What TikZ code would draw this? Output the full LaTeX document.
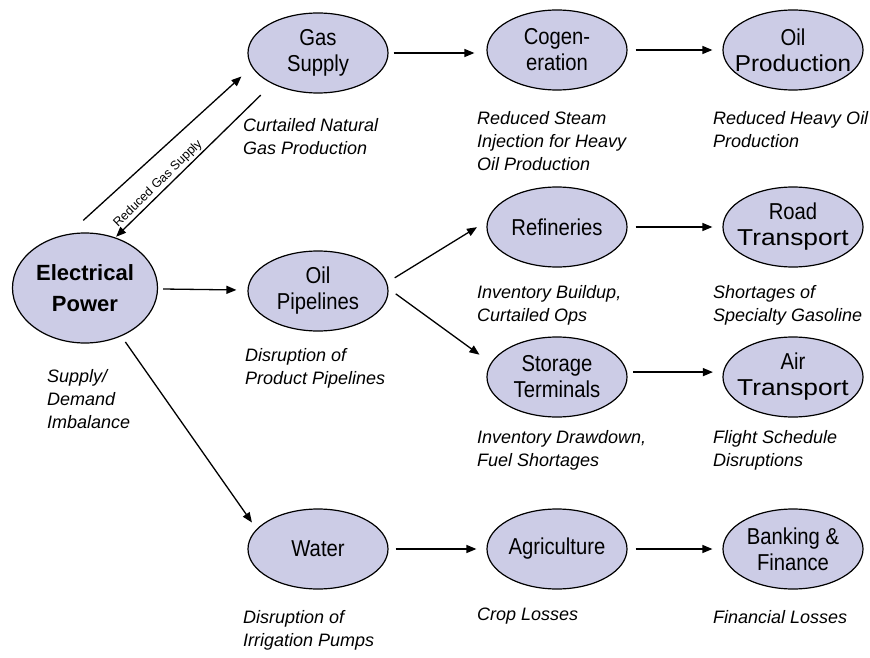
\documentclass[tikz,border=0pt]{standalone}
\usepackage{fontspec}
\setmainfont{Liberation Sans}
\newfontfamily\narrowfont[FakeStretch=0.88]{Liberation Sans}
\usetikzlibrary{arrows.meta,shapes.geometric}
\definecolor{bubble}{RGB}{204,204,230}
\newcommand\widen[2]{\scalebox{#1}[1]{#2}}

\begin{document}
\begin{tikzpicture}[x=1pt, y=-1pt,
    sector/.style={ellipse, draw=black, line width=1.2pt, fill=bubble, minimum width=140pt, minimum height=80pt,
        inner xsep=-25pt, inner ysep=-10pt, align=center, font=\narrowfont\fontsize{23}{26}\selectfont},
    source/.style={sector, minimum width=145pt, minimum height=110pt, font=\bfseries\fontsize{22}{31}\selectfont},
    note/.style={anchor=north west, inner sep=0pt, align=left, font=\itshape\fontsize{18}{23}\selectfont},
    link/.style={-{Triangle[length=10pt,width=8pt]}, line width=1.3pt}]
    \useasboundingbox (0,0) rectangle (870,658);

    % sectors
    \node[source] (ep) at (85,288) {Electrical\\Power};
    \node[sector] (gas) at (318,53) {Gas\\Supply};
    \node[sector] (cogen) at (557,50) {Cogen-\\eration};
    \node[sector] (oilprod) at (793,50) {Oil\\\widen{1.2}{Production}};
    \node[sector] (pipe) at (318,291) {Oil\\Pipelines};
    \node[sector] (refin) at (557,227) {Refineries};
    \node[sector] (road) at (793,227) {Road\\\widen{1.3}{Transport}};
    \node[sector] (stor) at (557,377) {Storage\\Terminals};
    \node[sector] (air) at (793,377) {Air\\\widen{1.3}{Transport}};
    \node[sector] (water) at (318,549) {Water};
    \node[sector] (agri) at (557,549) {Agriculture};
    \node[sector] (bank) at (793,549) {Banking \&\\Finance};

    % effects
    \node[note] (ep-note) at (47,369) {Supply/\\Demand\\Imbalance};
    \node[note] (gas-note) at (243,118) {Curtailed Natural\\Gas Production};
    \node[note] (cogen-note) at (477,111) {Reduced Steam\\Injection for Heavy\\Oil Production};
    \node[note] (oilprod-note) at (713,111) {Reduced Heavy Oil\\Production};
    \node[note] (pipe-note) at (245,348) {Disruption of\\Product Pipelines};
    \node[note] (refin-note) at (477,285) {Inventory Buildup,\\Curtailed Ops};
    \node[note] (road-note) at (713,285) {Shortages of\\Specialty Gasoline};
    \node[note] (stor-note) at (477,430) {Inventory Drawdown,\\Fuel Shortages};
    \node[note] (air-note) at (713,430) {Flight Schedule\\Disruptions};
    \node[note] (water-note) at (243,610) {Disruption of\\Irrigation Pumps};
    \node[note] (agri-note) at (477,608) {Crop Losses};
    \node[note] (bank-note) at (713,610) {Financial Losses};

    % links
    \draw[link, shorten <=20pt, shorten >=14pt] (ep.107) -- (gas.192);
    \draw[link, shorten <=16pt, shorten >=1pt] (gas.214) -- node[pos=0.69, sloped, above=2pt, inner sep=0pt,
        font=\fontsize{12.5}{14}\selectfont] {Reduced Gas Supply} (ep.59);
    \draw[link, shorten <=5pt, shorten >=11pt] (ep) -- (pipe);
    \draw[link, shorten <=7pt, shorten >=8pt] (ep.-53) -- (water.162);
    \draw[link, shorten <=5pt, shorten >=12pt] (gas) -- (gas -| cogen.west);
    \draw[link, shorten <=8pt, shorten >=10pt] (cogen) -- (oilprod);
    \draw[link, shorten <=9pt, shorten >=12pt] (pipe.7) -- (refin.175);
    \draw[link, shorten <=9pt, shorten >=14pt] (pipe.2) -- (stor.168);
    \draw[link, shorten <=8pt, shorten >=10pt] (refin) -- (road);
    \draw[link, shorten <=6pt, shorten >=10pt] (stor.4) -- (air.176);
    \draw[link, shorten <=7pt, shorten >=10pt] (water) -- (agri);
    \draw[link, shorten <=8pt, shorten >=10pt] (agri) -- (bank);
\end{tikzpicture}
\end{document}
